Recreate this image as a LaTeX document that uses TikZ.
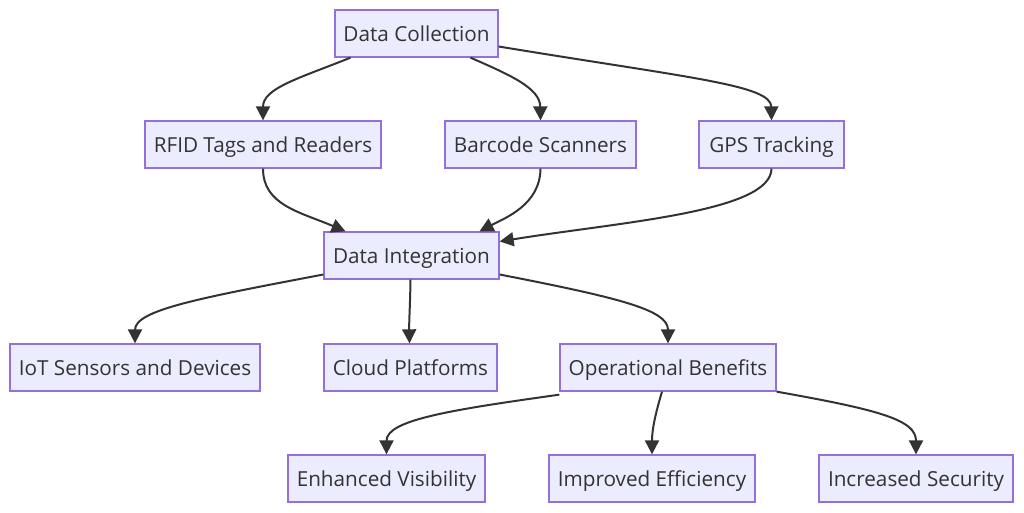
\documentclass[tikz,border=0pt]{standalone}
\usepackage{fontspec}
\setmainfont{Open Sans}
\usetikzlibrary{arrows.meta}
\definecolor{nodefill}{HTML}{ECECFF}
\definecolor{nodeline}{HTML}{9370DB}
\definecolor{txt}{HTML}{333333}
\definecolor{edge}{HTML}{333333}
\begin{document}
\begin{tikzpicture}[x=1pt,y=-1pt,
  box/.style={draw=nodeline,fill=nodefill,line width=1.3pt,text=txt,
    minimum height=47pt,inner sep=0pt,text height=16pt,text depth=0pt,
    font=\fontsize{20.7}{24}\selectfont},
  conn/.style={draw=edge,line width=2pt,-{Triangle[length=14pt,width=14pt]}}]
\useasboundingbox (0,0) rectangle (1024,513);
\node[box,minimum width=163pt] (dc) at (416.5,33.5) {Data Collection};
\node[box,minimum width=236pt] (rfid) at (263,144.5) {RFID Tags and Readers};
\node[box,minimum width=191pt] (bar) at (540.5,144.5) {Barcode Scanners};
\node[box,minimum width=145pt] (gps) at (771.5,144.5) {GPS Tracking};
\node[box,minimum width=175pt] (di) at (411.5,255.5) {Data Integration};
\node[box,minimum width=250pt] (iot) at (135,367.5) {IoT Sensors and Devices};
\node[box,minimum width=173pt] (cloud) at (410.5,367.5) {Cloud Platforms};
\node[box,minimum width=216pt] (ob) at (668,367.5) {Operational Benefits};
\node[box,minimum width=197pt] (ev) at (386.5,478.5) {Enhanced Visibility};
\node[box,minimum width=206pt] (ie) at (652,478.5) {Improved Efficiency};
\node[box,minimum width=194pt] (is) at (916,478.5) {Increased Security};

\draw[conn] ([xshift=-66pt]dc.south) .. controls (300,78) and (263,88) .. (rfid.north);
\draw[conn] ([xshift=54pt]dc.south) .. controls (510,75) and (540,88) .. (bar.north);
\draw[conn] ([yshift=-13pt]dc.east) .. controls (690,78) and (771,85) .. (gps.north);

\draw[conn] (rfid.south) .. controls (263,205) and (300,212) .. ([xshift=-66pt]di.north);
\draw[conn] (bar.south) .. controls (540,205) and (505,218) .. ([xshift=68pt]di.north);
\draw[conn] (gps.south) .. controls (771,212) and (620,222) .. ([yshift=14pt]di.east);

\draw[conn] ([yshift=-19pt]di.west) .. controls (200,298) and (135,310) .. (iot.north);
\draw[conn] ([xshift=-1pt]di.south) .. controls (410,310) and (409,320) .. ([xshift=-1pt]cloud.north);
\draw[conn] ([yshift=-19pt]di.east) .. controls (620,298) and (668,310) .. (ob.north);

\draw[conn] ([yshift=-3pt]ob.south west) .. controls (450,410) and (386.5,420) .. (ev.north);
\draw[conn] ([xshift=-6pt]ob.south) .. controls (655,415) and (652,430) .. (ie.north);
\draw[conn] (ob.south east) .. controls (880,410) and (916,420) .. (is.north);
\end{tikzpicture}
\end{document}
